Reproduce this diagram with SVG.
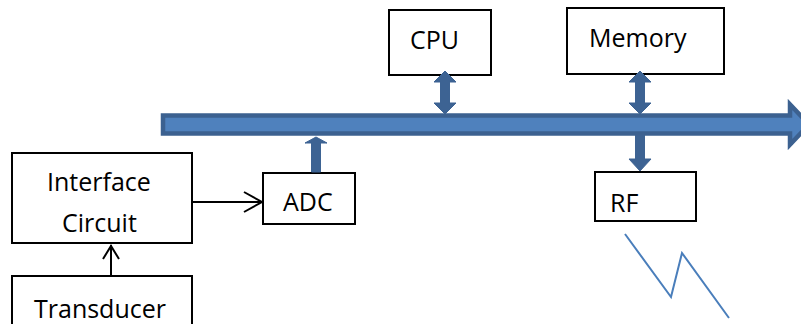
<svg xmlns="http://www.w3.org/2000/svg" width="801" height="324" viewBox="0 0 801 324">
  <defs>
    <style>
      .box { fill: #ffffff; stroke: #000000; stroke-width: 2; }
      .label { font-family: "Open Sans", "Liberation Sans", sans-serif; font-size: 25px; fill: #000000; }
      .wire { fill: none; stroke: #000000; stroke-width: 2; }
      .bus { fill: #4f81bd; stroke: #3c6190; stroke-width: 4.5; stroke-linejoin: miter; }
      .tap { fill: #3d6393; stroke: #3d6393; stroke-width: 1; stroke-linejoin: miter; }
    </style>
  </defs>

  <rect width="801" height="324" fill="#ffffff"/>

  <!-- nodes -->
  <g id="cpu">
    <rect class="box" x="389" y="10" width="102" height="65"/>
    <text class="label" x="410" y="49">CPU</text>
  </g>
  <g id="memory">
    <rect class="box" x="567" y="8" width="157" height="66"/>
    <text class="label" x="589" y="47">Memory</text>
  </g>
  <g id="rf">
    <rect class="box" x="595" y="172" width="101" height="49"/>
    <text class="label" x="610" y="212">RF</text>
  </g>
  <g id="adc">
    <rect class="box" x="263" y="173" width="92" height="51"/>
    <text class="label" x="283" y="211">ADC</text>
  </g>
  <g id="interface">
    <rect class="box" x="12" y="153" width="180" height="90"/>
    <text class="label" x="47" y="191">Interface</text>
    <text class="label" x="62" y="232">Circuit</text>
  </g>
  <g id="transducer">
    <rect class="box" x="12" y="276" width="180" height="60"/>
    <text class="label" x="34" y="318">Transducer</text>
  </g>

  <!-- connectors -->
  <g id="connectors">
    <!-- system bus -->
    <path class="bus" d="M163,115.5 L790,115.5 L790,104.5 L809,124.5 L790,144.5 L790,133.5 L163,133.5 Z"/>
    <!-- CPU <-> bus -->
    <path class="tap" d="M445,71 L456,82 L449.5,82 L449.5,103 L456,103 L445,114 L434,103 L440.5,103 L440.5,82 L434,82 Z"/>
    <!-- Memory <-> bus -->
    <path class="tap" d="M640,71 L651,82 L644.5,82 L644.5,103 L651,103 L640,114 L629,103 L635.5,103 L635.5,82 L629,82 Z"/>
    <!-- bus -> RF -->
    <path class="tap" d="M635.5,135 L644.5,135 L644.5,159 L651,159 L640,171 L629,159 L635.5,159 Z"/>
    <!-- ADC -> bus -->
    <path class="tap" d="M316,137 L327,143 L320.5,143 L320.5,172 L311.5,172 L311.5,143 L305,143 Z"/>
    <!-- Interface Circuit -> ADC -->
    <line class="wire" x1="192" y1="202" x2="262" y2="202"/>
    <polyline class="wire" points="244,192 262,202 244,212"/>
    <!-- Transducer -> Interface Circuit -->
    <line class="wire" x1="111" y1="276" x2="111" y2="245"/>
    <polyline class="wire" points="103,259 111,246 119,259"/>
    <!-- RF link -->
    <polyline points="625,234 671,297 682,253 729,318" fill="none" stroke="#4a7ebb" stroke-width="2"/>
  </g>
</svg>
